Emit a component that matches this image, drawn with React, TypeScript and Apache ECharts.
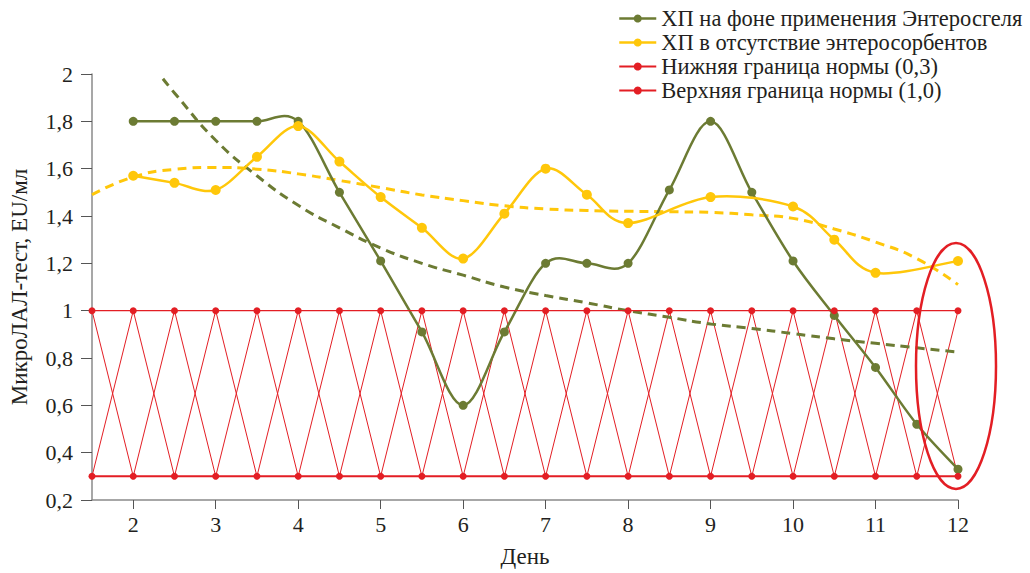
import React, { useEffect, useRef } from "react";
import * as echarts from "echarts";

// ---- data ----
const enterosgelDays = [2, 2.5, 3, 3.5, 4, 4.5, 5, 5.5, 6, 6.5, 7, 7.5, 8, 8.5, 9, 9.5, 10, 10.5, 11, 11.5, 12];
const enterosgelValues = [1.8, 1.8, 1.8, 1.8, 1.8, 1.5, 1.21, 0.91, 0.6, 0.91, 1.2, 1.2, 1.2, 1.51, 1.8, 1.5, 1.21, 0.98, 0.76, 0.52, 0.33];

const noSorbentDays = [2, 2.5, 3, 3.5, 4, 4.5, 5, 5.5, 6, 6.5, 7, 7.5, 8, 9, 10, 10.5, 11, 12];
const noSorbentValues = [1.57, 1.54, 1.51, 1.65, 1.78, 1.63, 1.48, 1.35, 1.22, 1.41, 1.6, 1.49, 1.37, 1.48, 1.44, 1.3, 1.16, 1.21];

const enterosgelTrendDays = [2.36, 2.5, 3, 3.5, 4, 4.5, 5, 5.5, 6, 6.5, 7, 7.5, 8, 8.5, 9, 9.5, 10, 10.5, 11, 11.5, 12];
const enterosgelTrendValues = [1.98, 1.92, 1.72, 1.57, 1.445, 1.35, 1.265, 1.2, 1.15, 1.1, 1.064, 1.033, 1.0, 0.972, 0.944, 0.925, 0.903, 0.881, 0.862, 0.843, 0.825];

const noSorbentTrendDays = [1.5, 2, 2.5, 3, 3.5, 4, 4.5, 5, 5.5, 6, 6.5, 7, 7.5, 8, 8.5, 9, 9.5, 10, 10.5, 11, 11.5, 12];
const noSorbentTrendValues = [1.49, 1.565, 1.597, 1.605, 1.598, 1.578, 1.55, 1.52, 1.489, 1.465, 1.443, 1.43, 1.423, 1.42, 1.418, 1.415, 1.405, 1.39, 1.345, 1.29, 1.22, 1.11];

const normDays = [1.5, 2, 2.5, 3, 3.5, 4, 4.5, 5, 5.5, 6, 6.5, 7, 7.5, 8, 8.5, 9, 9.5, 10, 10.5, 11, 11.5, 12];
const lowerNorm = [0.3, 0.3, 0.3, 0.3, 0.3, 0.3, 0.3, 0.3, 0.3, 0.3, 0.3, 0.3, 0.3, 0.3, 0.3, 0.3, 0.3, 0.3, 0.3, 0.3, 0.3, 0.3];
const upperNorm = [1.0, 1.0, 1.0, 1.0, 1.0, 1.0, 1.0, 1.0, 1.0, 1.0, 1.0, 1.0, 1.0, 1.0, 1.0, 1.0, 1.0, 1.0, 1.0, 1.0, 1.0, 1.0];

const xTicks = [2, 3, 4, 5, 6, 7, 8, 9, 10, 11, 12];

const seriesNames = [
  "ХП на фоне применения Энтеросгеля",
  "ХП в отсутствие энтеросорбентов",
  "Нижняя граница нормы (0,3)",
  "Верхняя граница нормы (1,0)",
];

const GREEN = "#6c7b33";
const YELLOW = "#ffc70a";
const RED = "#e31e24";
const FONT = "Liberation Serif";
const TEXT = "#231f20";

const pairs = (xs: number[], ys: number[]) => xs.map((x, i) => [x, ys[i]]);

// Excel-like smooth curve (Catmull-Rom as cubic Bezier segments), computed in pixel space
function smoothCurveSeries(xs: number[], ys: number[], color: string, width: number, z: number) {
  return {
    type: "custom",
    silent: true,
    z,
    data: [[xs[0], ys[0]]],
    renderItem: (_params: any, api: any) => {
      const pts = xs.map((x, i) => api.coord([x, ys[i]]));
      const n = pts.length;
      const children: any[] = [];
      for (let i = 0; i < n - 1; i++) {
        const p0 = pts[Math.max(0, i - 1)];
        const p1 = pts[i];
        const p2 = pts[i + 1];
        const p3 = pts[Math.min(n - 1, i + 2)];
        const t = 1 / 6;
        children.push({
          type: "bezierCurve",
          shape: {
            x1: p1[0],
            y1: p1[1],
            cpx1: p1[0] + (p2[0] - p0[0]) * t,
            cpy1: p1[1] + (p2[1] - p0[1]) * t,
            cpx2: p2[0] - (p3[0] - p1[0]) * t,
            cpy2: p2[1] - (p3[1] - p1[1]) * t,
            x2: p2[0],
            y2: p2[1],
          },
          style: { fill: null, stroke: color, lineWidth: width, lineCap: "round" },
        });
      }
      return { type: "group", children };
    },
  };
}

export default function App() {
  const ref = useRef<HTMLDivElement>(null);
  useEffect(() => {
    if (!ref.current) return;
    const chart = echarts.init(ref.current, undefined, { renderer: "svg" });
    const zigA = normDays.map((x, i) => [x, i % 2 === 0 ? upperNorm[i] : lowerNorm[i]]);
    const zigB = normDays.map((x, i) => [x, i % 2 === 0 ? lowerNorm[i] : upperNorm[i]]);
    const fmt = (v: number) => {
      const r = Math.round(v * 10) / 10;
      return Number.isInteger(r) ? String(r) : r.toFixed(1).replace(".", ",");
    };
    chart.setOption({
      animation: false,
      textStyle: { fontFamily: FONT },
      grid: { left: 91, right: 72, top: 74, bottom: 73 },
      legend: {
        orient: "vertical",
        left: 613,
        top: 2,
        itemWidth: 37,
        itemHeight: 10,
        itemGap: 1,
        data: [
          { name: seriesNames[0], lineStyle: { opacity: 1, color: GREEN, width: 2.5 } },
          { name: seriesNames[1], lineStyle: { opacity: 1, color: YELLOW, width: 2.5 } },
          { name: seriesNames[2] },
          { name: seriesNames[3] },
        ],
        textStyle: { fontFamily: FONT, fontSize: 22.5, color: TEXT, lineHeight: 22 },
      },
      xAxis: {
        type: "value",
        min: 1.5,
        max: 12,
        name: "День",
        nameLocation: "middle",
        nameGap: 45,
        nameTextStyle: { fontFamily: FONT, fontSize: 23, color: TEXT },
        splitLine: { show: false },
        axisLine: { lineStyle: { color: "#8a8a8a", width: 1.5 } },
        axisTick: { show: true, length: 9, customValues: xTicks, lineStyle: { color: "#555" } },
        axisLabel: {
          customValues: xTicks,
          margin: 13,
          fontFamily: FONT,
          fontSize: 22,
          color: TEXT,
        },
      },
      yAxis: {
        type: "value",
        min: 0.2,
        max: 2,
        interval: 0.2,
        name: "МикроЛАЛ-тест, EU/мл",
        nameLocation: "middle",
        nameGap: 61,
        nameTextStyle: { fontFamily: FONT, fontSize: 23, color: TEXT },
        splitLine: { show: false },
        axisLine: { show: true, lineStyle: { color: "#8a8a8a", width: 1.5 } },
        axisTick: { show: true, length: 11, lineStyle: { color: "#555" } },
        axisLabel: {
          margin: 19,
          fontFamily: FONT,
          fontSize: 22,
          color: TEXT,
          formatter: fmt,
        },
      },
      series: [
        {
          name: "trendYellow",
          type: "line",
          data: pairs(noSorbentTrendDays, noSorbentTrendValues),
          smooth: true,
          showSymbol: false,
          silent: true,
          lineStyle: { color: YELLOW, width: 3, type: [9, 6] },
          z: 2,
        },
        {
          name: "trendGreen",
          type: "line",
          data: pairs(enterosgelTrendDays, enterosgelTrendValues),
          smooth: true,
          showSymbol: false,
          silent: true,
          lineStyle: { color: GREEN, width: 3, type: [9, 6] },
          z: 2,
        },
        {
          name: "zigA",
          type: "line",
          data: zigA,
          showSymbol: false,
          silent: true,
          lineStyle: { color: RED, width: 1 },
          z: 1,
        },
        {
          name: "zigB",
          type: "line",
          data: zigB,
          showSymbol: false,
          silent: true,
          lineStyle: { color: RED, width: 1 },
          z: 1,
        },
        smoothCurveSeries(enterosgelDays, enterosgelValues, GREEN, 2.5, 3),
        {
          name: seriesNames[0],
          type: "line",
          data: pairs(enterosgelDays, enterosgelValues),
          symbol: "circle",
          symbolSize: 9,
          itemStyle: { color: GREEN },
          lineStyle: { color: GREEN, width: 2.5, opacity: 0 },
          z: 3,
        },
        smoothCurveSeries(noSorbentDays, noSorbentValues, YELLOW, 2.5, 4),
        {
          name: seriesNames[1],
          type: "line",
          data: pairs(noSorbentDays, noSorbentValues),
          symbol: "circle",
          symbolSize: 10,
          itemStyle: { color: YELLOW },
          lineStyle: { color: YELLOW, width: 2.5, opacity: 0 },
          z: 4,
        },
        {
          name: seriesNames[2],
          type: "line",
          data: pairs(normDays, lowerNorm),
          symbol: "circle",
          symbolSize: 7,
          itemStyle: { color: RED },
          lineStyle: { color: RED, width: 2 },
          z: 5,
        },
        {
          name: seriesNames[3],
          type: "line",
          data: pairs(normDays, upperNorm),
          symbol: "circle",
          symbolSize: 7,
          itemStyle: { color: RED },
          lineStyle: { color: RED, width: 1.3 },
          z: 5,
        },
      ],
      graphic: [
        {
          type: "ellipse",
          shape: { cx: 956, cy: 366, rx: 40, ry: 123 },
          style: { fill: "none", stroke: RED, lineWidth: 2.5 },
          z: 10,
        },
      ],
    });
    return () => chart.dispose();
  }, []);
  return (
    <div
      ref={ref}
      style={{ position: "fixed", left: 0, top: 0, width: 1030, height: 573, background: "#fff" }}
    />
  );
}
